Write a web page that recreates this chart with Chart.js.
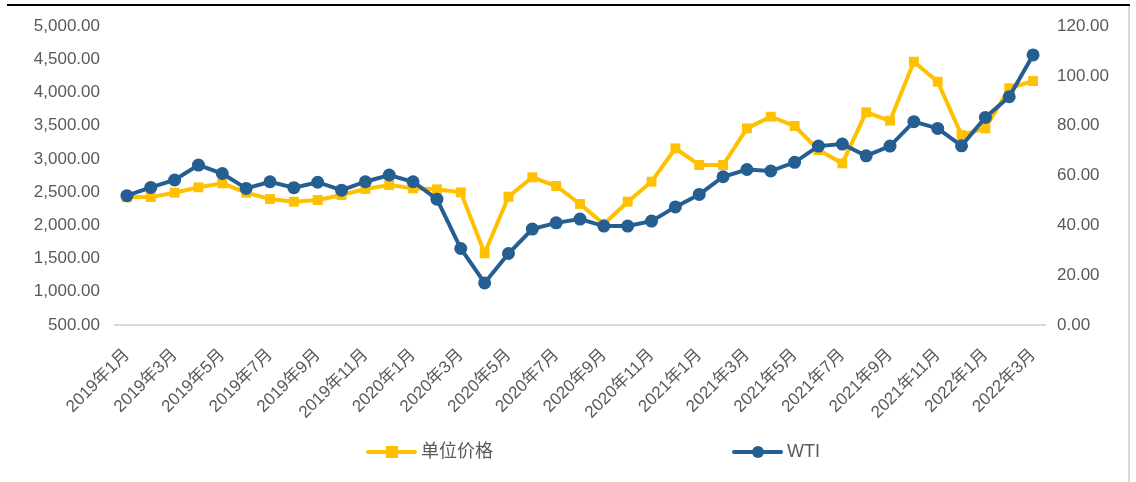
<!DOCTYPE html>
<html lang="zh">
<head>
<meta charset="utf-8">
<title>单位价格 与 WTI</title>
<script src="https://cdn.jsdelivr.net/npm/chart.js@4/dist/chart.umd.min.js"></script>
<style>
    body {
        margin: 0;
        background: #ffffff;
    }
    .contenedor {
        position: relative;
        width: 1136px;
        height: 482px;
    }
    .borde-superior {
        position: absolute;
        left: 7px;
        top: 4px;
        width: 1123px;
        height: 2px;
        background: #000000;
    }
    .borde-derecho {
        position: absolute;
        left: 1128px;
        top: 6px;
        width: 2px;
        height: 476px;
        background: #d9d9d9;
    }
</style>
</head>
<body>
<div class="contenedor">
    <canvas id="graficaPrecios"></canvas>
    <div class="borde-superior"></div>
    <div class="borde-derecho"></div>
</div>
<script>
/* ==================
    DATOS
================== */

const meses = [
    "2019年1月", "2019年2月", "2019年3月", "2019年4月", "2019年5月", "2019年6月",
    "2019年7月", "2019年8月", "2019年9月", "2019年10月", "2019年11月", "2019年12月",
    "2020年1月", "2020年2月", "2020年3月", "2020年4月", "2020年5月", "2020年6月",
    "2020年7月", "2020年8月", "2020年9月", "2020年10月", "2020年11月", "2020年12月",
    "2021年1月", "2021年2月", "2021年3月", "2021年4月", "2021年5月", "2021年6月",
    "2021年7月", "2021年8月", "2021年9月", "2021年10月", "2021年11月", "2021年12月",
    "2022年1月", "2022年2月", "2022年3月"
];

const precioUnitario = [
    2422, 2425, 2491, 2572, 2632, 2491, 2396, 2356, 2381, 2456, 2547, 2607,
    2557, 2542, 2497, 1579, 2431, 2723, 2592, 2321, 2020, 2356, 2657, 3159,
    2908, 2908, 3459, 3635, 3495, 3134, 2933, 3701, 3575, 4463, 4162, 3359,
    3459, 4062, 4172
];

const precioWTI = [
    51.9, 55.2, 58.2, 64.2, 60.8, 54.8, 57.5, 55.1, 57.3, 54.1, 57.5, 60.2,
    57.5, 50.5, 30.7, 16.9, 28.7, 38.5, 41.0, 42.5, 39.7, 39.7, 41.7, 47.4,
    52.4, 59.5, 62.4, 61.8, 65.3, 71.8, 72.6, 67.9, 71.8, 81.6, 78.9, 71.9,
    83.3, 91.6, 108.4
];

const nombresSeries = ["单位价格", "WTI"];

/* ==================
    ESTILO
================== */

const AMARILLO = "#ffc000";
const AZUL = "#255e91";
const GRIS_TEXTO = "#595959";
const FUENTE = "'Liberation Sans', 'Noto Sans CJK SC', sans-serif";

function formatearNumero(valor) {
    return Number(valor).toLocaleString("en-US", {
        minimumFractionDigits: 2,
        maximumFractionDigits: 2,
    });
}

/* ==================
    LEYENDA
================== */

// Excel dibuja la leyenda como linea + marcador, Chart.js no lo hace solo
const leyendaExcel = {
    id: "leyendaExcel",
    afterDraw(chart) {
        const ctx = chart.ctx;
        const y = 452;
        const items = [
            { x: 368, color: AMARILLO, forma: "cuadro", texto: nombresSeries[0] },
            { x: 734, color: AZUL, forma: "circulo", texto: nombresSeries[1] },
        ];

        ctx.save();
        items.forEach((item) => {
            ctx.strokeStyle = item.color;
            ctx.fillStyle = item.color;
            ctx.lineWidth = 4;
            ctx.lineCap = "round";
            ctx.beginPath();
            ctx.moveTo(item.x, y);
            ctx.lineTo(item.x + 47, y);
            ctx.stroke();

            const centro = item.x + 24;
            if (item.forma === "cuadro") {
                ctx.fillRect(centro - 6, y - 6, 12, 12);
            } else {
                ctx.beginPath();
                ctx.arc(centro, y, 6, 0, Math.PI * 2);
                ctx.fill();
            }

            ctx.fillStyle = GRIS_TEXTO;
            ctx.font = "18px " + FUENTE;
            ctx.textBaseline = "middle";
            ctx.textAlign = "left";
            ctx.fillText(item.texto, item.x + 53, y);
        });
        ctx.restore();
    },
};

/* ==================
    GRAFICA
================== */

function crearGrafica() {
    const canvas = document.getElementById("graficaPrecios");
    if (!canvas || typeof Chart === "undefined") {
        return;
    }

    new Chart(canvas.getContext("2d"), {
        type: "line",
        data: {
            labels: meses,
            datasets: [{
                label: nombresSeries[0],
                data: precioUnitario,
                yAxisID: "yPrecio",
                borderColor: AMARILLO,
                backgroundColor: AMARILLO,
                borderWidth: 4,
                pointStyle: "rect",
                pointRadius: 7,
                pointBorderWidth: 0,
                tension: 0,
                order: 1,
            }, {
                label: nombresSeries[1],
                data: precioWTI,
                yAxisID: "yWTI",
                borderColor: AZUL,
                backgroundColor: AZUL,
                borderWidth: 4,
                pointStyle: "circle",
                pointRadius: 6.5,
                pointBorderWidth: 0,
                tension: 0,
                order: 0,
            }],
        },
        options: {
            responsive: true,
            maintainAspectRatio: false,
            animation: false,
            layout: {
                padding: { top: 26, left: 0, right: 0, bottom: 0 },
            },
            plugins: {
                legend: { display: false },
                tooltip: { enabled: false },
            },
            scales: {
                x: {
                    offset: true,
                    grid: { display: false, drawTicks: false },
                    border: { display: true, color: "#d9d9d9", width: 2 },
                    ticks: {
                        autoSkip: false,
                        maxRotation: 45,
                        minRotation: 45,
                        padding: 20,
                        color: GRIS_TEXTO,
                        font: { family: FUENTE, size: 17 },
                        callback: (valor, indice) => (indice % 2 === 0 ? meses[indice] : ""),
                    },
                    afterFit: (escala) => {
                        escala.height = 157;
                    },
                },
                yPrecio: {
                    position: "left",
                    min: 500,
                    max: 5000,
                    grid: { display: false, drawTicks: false },
                    border: { display: false },
                    ticks: {
                        stepSize: 500,
                        padding: 15,
                        color: GRIS_TEXTO,
                        font: { family: FUENTE, size: 17 },
                        callback: (valor) => formatearNumero(valor),
                    },
                    afterFit: (escala) => {
                        escala.width = 115;
                    },
                },
                yWTI: {
                    position: "right",
                    min: 0,
                    max: 120,
                    grid: { display: false, drawTicks: false },
                    border: { display: false },
                    ticks: {
                        stepSize: 20,
                        padding: 12,
                        color: GRIS_TEXTO,
                        font: { family: FUENTE, size: 17 },
                        callback: (valor) => formatearNumero(valor),
                    },
                    afterFit: (escala) => {
                        escala.width = 91;
                    },
                },
            },
        },
        plugins: [leyendaExcel],
    });
}

if (document.readyState === "loading") {
    document.addEventListener("DOMContentLoaded", crearGrafica);
} else {
    crearGrafica();
}
</script>
</body>
</html>
